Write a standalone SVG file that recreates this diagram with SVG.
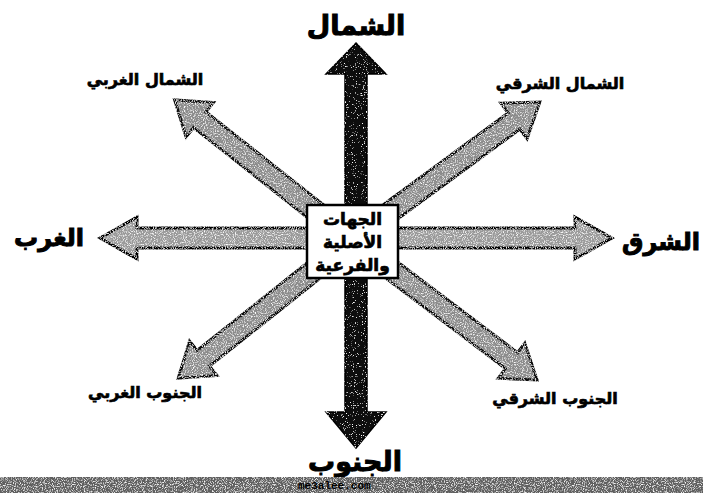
<svg xmlns="http://www.w3.org/2000/svg" width="703" height="493" viewBox="0 0 703 493">
<defs>
<style>
.lbl{font-family:"DejaVu Sans",sans-serif;font-weight:bold;fill:#000;stroke:#000;stroke-width:0.7;text-anchor:middle}
.big{font-size:27px;stroke-width:1}
.mid{font-size:24px;stroke-width:1}
.sm{font-size:16px}
.box{font-size:17px}
.diag{fill:#8c8c8c;stroke:#111;stroke-width:3;stroke-linejoin:miter}
.hz{fill:#9a9a9a;stroke:#000;stroke-width:3}
.vt{fill:#0d0d0d;stroke:#000;stroke-width:1.5}
</style>
<filter id="grain" x="-5%" y="-5%" width="110%" height="110%">
<feTurbulence type="fractalNoise" baseFrequency="0.9" numOctaves="2" seed="3" result="n"/>
<feColorMatrix in="n" type="matrix" values="0 0 0 0 1  0 0 0 0 1  0 0 0 0 1  0 0 0 -3 1.55" result="w"/>
<feComposite in="w" in2="SourceGraphic" operator="in" result="ws"/>
<feMerge><feMergeNode in="SourceGraphic"/><feMergeNode in="ws"/></feMerge>
</filter>
<filter id="grainDark" x="-5%" y="-5%" width="110%" height="110%">
<feTurbulence type="fractalNoise" baseFrequency="0.9" numOctaves="2" seed="7" result="n"/>
<feColorMatrix in="n" type="matrix" values="0 0 0 0 1  0 0 0 0 1  0 0 0 0 1  0 0 0 -6 2.1" result="w"/>
<feComposite in="w" in2="SourceGraphic" operator="in" result="ws"/>
<feMerge><feMergeNode in="SourceGraphic"/><feMergeNode in="ws"/></feMerge>
</filter>
</defs>
<rect width="703" height="493" fill="#fff"/>

<g id="connectors">
  <g id="arrow-nw" filter="url(#grain)"><path class="diag" transform="translate(352,240) rotate(218.3)" d="M0,-10 L194,-10 L194,-22 L226,0 L194,22 L194,10 L0,10 Z"/></g>
  <g id="arrow-ne" filter="url(#grain)"><path class="diag" transform="translate(352,240) rotate(-36.3)" d="M0,-10 L201,-10 L201,-22 L233,0 L201,22 L201,10 L0,10 Z"/></g>
  <g id="arrow-sw" filter="url(#grain)"><path class="diag" transform="translate(352,240) rotate(141.5)" d="M0,-10 L190,-10 L190,-22 L222,0 L190,22 L190,10 L0,10 Z"/></g>
  <g id="arrow-se" filter="url(#grain)"><path class="diag" transform="translate(352,240) rotate(37.1)" d="M0,-10 L200,-10 L200,-22 L232,0 L200,22 L200,10 L0,10 Z"/></g>
  <g id="arrow-ew" filter="url(#grain)"><path class="hz" d="M100,238 L137,217 L137,228 L575,228 L575,217 L612,238 L575,259 L575,248 L137,248 L137,259 Z"/></g>
  <g id="arrow-ns" filter="url(#grainDark)"><path class="vt" d="M356,43 L386,74 L367,74 L367,412 L386,412 L356,448 L326,412 L345,412 L345,74 L326,74 Z"/></g>
</g>

<g id="center">
  <rect x="307" y="205" width="91" height="73" fill="#fff" stroke="#000" stroke-width="2.5"/>
  <text class="lbl box" x="352.5" y="225">الجهات</text>
  <text class="lbl box" x="352.5" y="248">الأصلية</text>
  <text class="lbl box" x="352.5" y="271">والفرعية</text>
</g>

<g id="north"><text class="lbl big" x="356" y="35">الشمال</text></g>
<g id="south"><text class="lbl big" x="355" y="471">الجنوب</text></g>
<g id="west"><text class="lbl mid" x="49" y="246">الغرب</text></g>
<g id="east"><text class="lbl mid" x="661" y="250">الشرق</text></g>
<g id="northwest"><text class="lbl sm" x="145" y="85">الشمال الغربي</text></g>
<g id="northeast"><text class="lbl sm" x="560" y="89">الشمال الشرقي</text></g>
<g id="southwest"><text class="lbl sm" x="145" y="398">الجنوب الغربي</text></g>
<g id="southeast"><text class="lbl sm" x="555" y="404">الجنوب الشرقي</text></g>

<g id="footer">
  <rect x="0" y="477" width="703" height="16" fill="#5e5e5e" filter="url(#grain)"/>
  <text x="298" y="489" font-family="Liberation Mono, monospace" font-size="11" font-weight="bold" fill="#000">me3alee.com</text>
</g>
</svg>
